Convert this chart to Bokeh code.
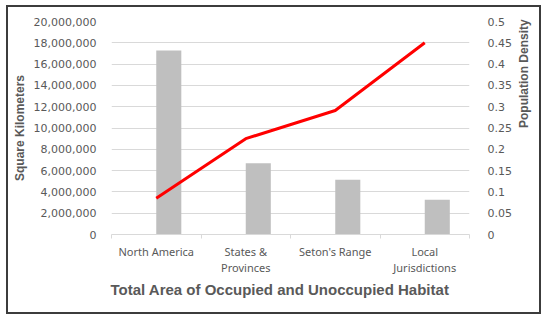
import math
from bokeh.plotting import figure
from bokeh.models import (Range1d, LinearAxis, FixedTicker, NumeralTickFormatter,
                          ColumnDataSource, Title)
from bokeh.embed import file_html
from bokeh.resources import INLINE

categories = ["North America", "States &\nProvinces", "Seton's Range", "Local\nJurisdictions"]
area_km2 = [17280000, 6700000, 5130000, 3260000]
pop_density = [0.085, 0.225, 0.291, 0.45]
left_ticks = list(range(0, 20000001, 2000000))
right_ticks = [0, 0.05, 0.1, 0.15, 0.2, 0.25, 0.3, 0.35, 0.4, 0.45, 0.5]

n = len(categories)
centers = [i + 0.5 for i in range(n)]
bar_offset = 0.14
bar_width = 0.28

src = ColumnDataSource(dict(
    x=centers,
    xb=[c + bar_offset for c in centers],
    area=area_km2,
    dens=pop_density,
))

GREY_TXT = "#595959"

p = figure(width=535, height=309, output_backend="svg", toolbar_location=None,
           x_range=Range1d(0, n), y_range=Range1d(0, 20000000),
           min_border_left=103, min_border_right=74, min_border_top=14, min_border_bottom=82)
p.styles = {"border": "2px solid #3c3c3c", "margin-left": "6px", "margin-top": "5px"}
p.outline_line_color = None
p.background_fill_color = "white"
p.border_fill_color = "white"

p.extra_y_ranges = {"dens": Range1d(0, 0.5)}

p.vbar(x="xb", top="area", width=bar_width, source=src, color="#bfbfbf", line_color=None)
p.line(x="x", y="dens", source=src, y_range_name="dens", line_color="#ff0000", line_width=3)

# x axis
xa = p.xaxis[0]
xa.ticker = FixedTicker(ticks=centers, minor_ticks=list(range(n + 1)))
xa.major_label_overrides = {c: lab for c, lab in zip(centers, categories)}
xa.major_tick_line_color = None
xa.minor_tick_line_color = "#d9d9d9"
xa.minor_tick_out = 4
xa.minor_tick_in = 0
xa.axis_line_color = "#d9d9d9"
xa.major_label_text_font = "Noto Sans"
xa.major_label_text_font_size = "11px"
xa.major_label_text_color = GREY_TXT
xa.major_label_text_line_height = 1.1
xa.major_label_standoff = 3

p.add_layout(Title(text="Total Area of Occupied and Unoccupied Habitat", align="left",
                   offset=-1, text_font="Liberation Sans", text_font_style="bold",
                   text_font_size="15px", text_color=GREY_TXT, standoff=0), "below")

# left axis
ya = p.yaxis[0]
ya.ticker = FixedTicker(ticks=left_ticks)
ya.formatter = NumeralTickFormatter(format="0,0")
ya.axis_line_color = None
ya.major_tick_line_color = None
ya.minor_tick_line_color = None
ya.major_label_text_font = "DejaVu Sans"
ya.major_label_text_font_size = "11px"
ya.major_label_text_color = GREY_TXT
ya.major_label_standoff = 9
ya.axis_label = "Square Kilometers"
ya.axis_label_text_font = "Liberation Sans"
ya.axis_label_text_font_style = "bold"
ya.axis_label_text_font_size = "12px"
ya.axis_label_text_color = GREY_TXT
ya.axis_label_standoff = 4

# right axis
ra = LinearAxis(y_range_name="dens", ticker=FixedTicker(ticks=right_ticks),
                formatter=NumeralTickFormatter(format="0.[00]"))
ra.axis_line_color = None
ra.major_tick_line_color = None
ra.minor_tick_line_color = None
ra.major_label_text_font = "DejaVu Sans"
ra.major_label_text_font_size = "11px"
ra.major_label_text_color = GREY_TXT
ra.major_label_standoff = 12
ra.axis_label = "Population Density"
ra.axis_label_text_font = "Liberation Sans"
ra.axis_label_text_font_style = "bold"
ra.axis_label_text_font_size = "12px"
ra.axis_label_text_color = GREY_TXT
ra.axis_label_standoff = 9
if "axis_label_orientation" in ra.properties():
    ra.axis_label_orientation = math.pi / 2
p.add_layout(ra, "right")

p.xgrid.grid_line_color = None
p.ygrid.grid_line_color = "#d9d9d9"
p.ygrid.ticker = FixedTicker(ticks=left_ticks)

open("out.html", "w").write(file_html(p, INLINE))
